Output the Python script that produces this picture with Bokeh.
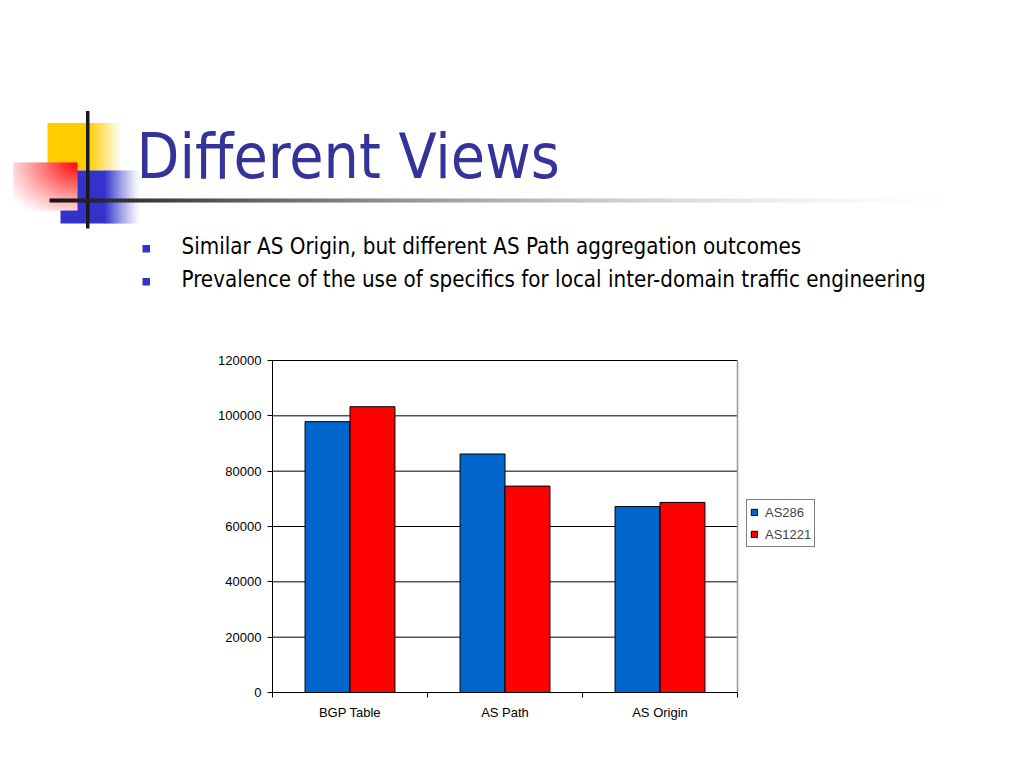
import numpy as np
from bokeh.plotting import figure
from bokeh.models import (Range1d, FixedTicker, LinearAxis, Legend, LegendItem,
                          ColumnDataSource, BasicTickFormatter)
from bokeh.transform import dodge
from bokeh.core.properties import value
from bokeh.embed import file_html
from bokeh.resources import INLINE

# ---------------- data ----------------
categories = ["BGP Table", "AS Path", "AS Origin"]
as286 = [97900, 86200, 67200]
as1221 = [103300, 74600, 68700]
series_names = ["AS286", "AS1221"]
y_ticks = [0, 20000, 40000, 60000, 80000, 100000, 120000]
y_max = 120000

title_text = "Different Views"
bullets = [
    "Similar AS Origin, but different AS Path aggregation outcomes",
    "Prevalence of the use of specifics for local inter-domain traffic engineering",
]

# ---------------- geometry (page pixels) ----------------
W, H = 1008, 752
FR_L, FR_R, FR_T, FR_B = 272, 737, 360, 692   # chart plot area
FONT = "DejaVu Sans Condensed"
n = len(categories)

# page canvas: x to the right, y downward (pixels)
p = figure(width=W, height=H, x_range=Range1d(0, W), y_range=Range1d(H, 0),
           toolbar_location=None, output_backend="svg",
           x_axis_type=None, y_axis_type=None, min_border=0)
p.outline_line_color = None
p.background_fill_color = "white"

# chart scales mapped onto the same canvas
ppu = (FR_R - FR_L) / n
ppv = (FR_B - FR_T) / y_max
p.extra_x_ranges = {"cat": Range1d(-FR_L / ppu, (W - FR_L) / ppu)}
p.extra_y_ranges = {"val": Range1d(-(H - FR_B) / ppv, FR_B / ppv)}


def blend(rgb, a):
    a = float(np.clip(a, 0, 1))
    c = [int(round(255 - (255 - ch) * a)) for ch in rgb]
    return "#%02x%02x%02x" % tuple(c)


def strips(x0, x1, y0, y1, rgb, alphas):
    k = len(alphas)
    e = np.linspace(x0, x1, k + 1)
    p.quad(left=e[:-1], right=e[1:] + 0.6, top=[y0] * k, bottom=[y1] * k,
           fill_color=[blend(rgb, a) for a in alphas], line_color=None)


# ---- header decorations ----
YEL, BLU, RED, DARK = (255, 204, 0), (51, 51, 204), (255, 0, 0), (20, 20, 20)

# yellow square: solid, fading to white on the right
p.quad(left=47, right=88.5, top=122.5, bottom=170, fill_color="#FFCC00", line_color=None)
k = 22
t = (np.arange(k) + 0.5) / k
strips(88, 121, 122.5, 170, YEL, 1 - t)

# blue square
p.quad(left=60, right=104.5, top=170, bottom=223, fill_color="#3333CC", line_color=None)
k = 24
t = (np.arange(k) + 0.5) / k
strips(104, 140, 170, 223, BLU, (1 - t) ** 1.2)

# red square: radial fade from the top-right corner to white
nx, ny = 32, 24
xs = np.linspace(13, 77, nx + 1)
ys = np.linspace(162, 210, ny + 1)
L, R, T, B, C = [], [], [], [], []
for i in range(nx):
    for j in range(ny):
        u = (i + 0.5) / nx
        v = 1 - (j + 0.5) / ny
        d = np.sqrt((1 - u) ** 2 + (1 - v) ** 2)
        a = max(0.0, 1 - d / 1.3) ** 1.2
        L.append(xs[i]); R.append(min(xs[i + 1] + 0.6, 77))
        T.append(ys[j]); B.append(min(ys[j + 1] + 0.6, 210))
        C.append(blend(RED, a))
p.quad(left=L, right=R, top=T, bottom=B, fill_color=C, line_color=None)

# vertical dark bar
p.quad(left=85.5, right=89, top=110.5, bottom=228, fill_color="#1a1a1a", line_color=None)

# horizontal rule fading to the right
k = 229
t = (np.arange(k) + 0.5) / k
strips(49, 965, 198, 202, DARK, (1 - t) ** 1.6)

# title (vertically centred on the capitals)
p.text(x=[136], y=[156], text=[title_text], text_font=value(FONT),
       text_font_size="62px", text_color="#333399",
       text_baseline="middle", text_align="left")

# bullets
bullet_mid = [245.5, 278.5]
p.quad(left=[142] * 2, right=[149.5] * 2, top=[b - 1 for b in bullet_mid],
       bottom=[b + 6.5 for b in bullet_mid], fill_color="#3333CC", line_color=None)
p.text(x=[181] * 2, y=bullet_mid, text=bullets, text_font=value(FONT),
       text_font_size="22.2px", text_color="black",
       text_baseline="middle", text_align="left")

# ---------------- chart ----------------
x_pos = [i + 0.5 for i in range(n)]
src = ColumnDataSource(dict(x=x_pos, a=as286, b=as1221, cat=categories))

# horizontal gridlines at the tick values
p.segment(x0=[0] * len(y_ticks), x1=[n] * len(y_ticks), y0=y_ticks, y1=y_ticks,
          x_range_name="cat", y_range_name="val", line_color="black", line_width=1)
# right border of plot area
p.segment(x0=[n], x1=[n], y0=[0], y1=[y_max], x_range_name="cat", y_range_name="val",
          line_color="#999999", line_width=1.5)

r1 = p.vbar(x=dodge("x", -0.145), top="a", width=0.29, source=src,
            x_range_name="cat", y_range_name="val",
            fill_color="#0066CC", line_color="black", line_width=1)
r2 = p.vbar(x=dodge("x", 0.145), top="b", width=0.29, source=src,
            x_range_name="cat", y_range_name="val",
            fill_color="#FF0000", line_color="black", line_width=1)

yaxis = LinearAxis(x_range_name="cat", y_range_name="val", fixed_location=0,
                   bounds=(0, y_max), ticker=FixedTicker(ticks=y_ticks),
                   formatter=BasicTickFormatter(use_scientific=False))
yaxis.major_tick_out = 5
yaxis.major_tick_in = 0
yaxis.minor_tick_out = 0
yaxis.minor_tick_in = 0
yaxis.major_label_standoff = 6
yaxis.major_label_text_font = "Liberation Sans"
yaxis.major_label_text_font_size = "13px"
yaxis.major_label_text_color = "black"
yaxis.axis_line_color = "black"
yaxis.major_tick_line_color = "black"
p.add_layout(yaxis, "left")

xaxis = LinearAxis(x_range_name="cat", y_range_name="val", fixed_location=0,
                   bounds=(0, n),
                   ticker=FixedTicker(ticks=x_pos, minor_ticks=list(range(n + 1))))
xaxis.major_label_overrides = {xp: c for xp, c in zip(x_pos, categories)}
xaxis.major_tick_out = 0
xaxis.major_tick_in = 0
xaxis.minor_tick_out = 5
xaxis.minor_tick_in = 0
xaxis.minor_tick_line_color = "black"
xaxis.major_label_standoff = 7
xaxis.major_label_text_font = "Liberation Sans"
xaxis.major_label_text_font_size = "13px"
xaxis.major_label_text_color = "black"
xaxis.axis_line_color = "black"
p.add_layout(xaxis, "below")

legend = Legend(items=[LegendItem(label=series_names[0], renderers=[r1]),
                       LegendItem(label=series_names[1], renderers=[r2])],
                location=(746, H - 547))
legend.border_line_color = "black"
legend.border_line_width = 1
legend.background_fill_color = "white"
legend.label_text_font = "Liberation Sans"
legend.label_text_font_size = "13px"
legend.glyph_width = 8
legend.glyph_height = 8
legend.label_standoff = 7
legend.padding = 3
legend.spacing = 4
legend.label_height = 18
legend.margin = 0
p.add_layout(legend, "center")

open("out.html", "w").write(file_html(p, INLINE))
